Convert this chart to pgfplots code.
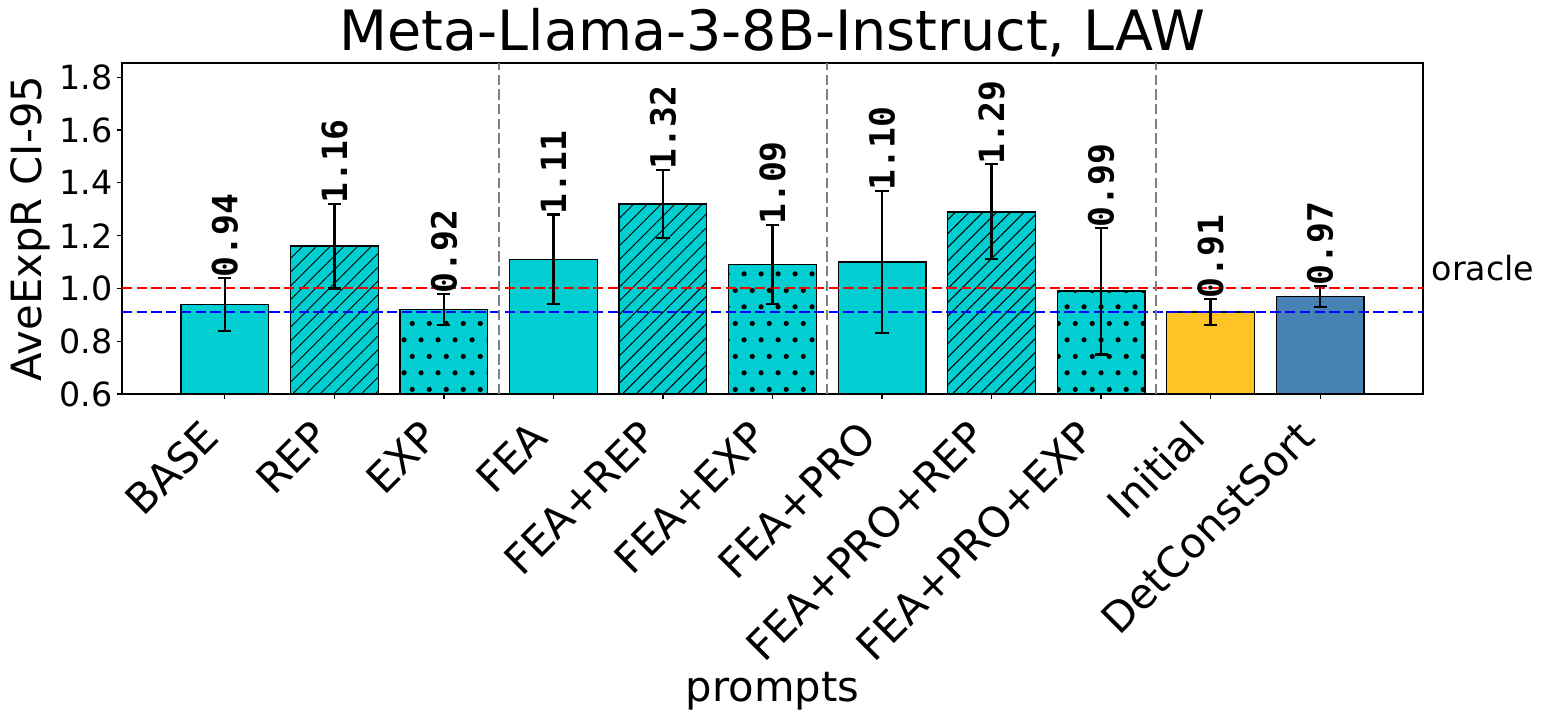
\documentclass[border=0pt]{standalone}
\usepackage{fontspec}
\setmainfont{DejaVu Sans}
\newfontfamily\labfont{DejaVu Sans Mono}
\usepackage{graphicx}
\usepackage{pgfplots}
\pgfplotsset{compat=1.18}
\usetikzlibrary{patterns,patterns.meta}
\definecolor{cyanbar}{RGB}{0,206,209}
\definecolor{goldbar}{RGB}{254,196,37}
\definecolor{steelbar}{RGB}{70,130,180}
\newcommand\xl[1]{\rotatebox{45}{\rule[-0.34em]{0pt}{1.30em}#1}}
\pgfdeclarepatternformonly{mydots}{\pgfpointorigin}{\pgfqpoint{12bp}{24bp}}{\pgfqpoint{12bp}{24bp}}{%
  \pgfpathcircle{\pgfqpoint{3bp}{6bp}}{1.9bp}%
  \pgfpathcircle{\pgfqpoint{9bp}{18bp}}{1.9bp}%
  \pgfusepath{fill}}
\pgfplotstableread{
x top label
0 1.04 0.94
1 1.32 1.16
2 0.98 0.92
3 1.28 1.11
4 1.45 1.32
5 1.24 1.09
6 1.37 1.10
7 1.47 1.29
8 1.23 0.99
9 0.96 0.91
10 1.01 0.97
}\labtable
\begin{document}
\begin{tikzpicture}
\begin{axis}[
  name=ax,
  scale only axis,
  width=13.01in, height=3.31in,
  xmin=-0.94, xmax=10.94,
  ymin=0.6, ymax=1.854,
  axis line style={line width=0.8bp},
  tick style={line width=0.8bp, black},
  tick align=outside,
  major tick length=3.5bp,
  xtick pos=bottom, ytick pos=left,
  xtick={0,1,2,3,4,5,6,7,8,9,10},
  xticklabels={\xl{BASE},\xl{REP},\xl{EXP},\xl{FEA},\xl{FEA+REP},\xl{FEA+EXP},\xl{FEA+PRO},\xl{FEA+PRO+REP},\xl{FEA+PRO+EXP},\xl{Initial},\xl{DetConstSort}},
  xticklabel style={anchor=north east, inner sep=0pt, xshift=5bp, yshift=-9bp, font=\fontsize{30bp}{36bp}\selectfont},
  ytick={0.6,0.8,1.0,1.2,1.4,1.6,1.8},
  yticklabel style={font=\fontsize{24bp}{29bp}\selectfont, /pgf/number format/fixed, /pgf/number format/fixed zerofill, /pgf/number format/precision=1},
  /pgf/number format/assume math mode=true,
  xlabel={prompts},
  ylabel={AveExpR CI-95},
  xlabel style={at={(axis description cs:0.5,-0.93)}, anchor=base, font=\fontsize{30bp}{36bp}\selectfont},
  ylabel style={font=\fontsize{30bp}{36bp}\selectfont},
  title={Meta-Llama-3-8B-Instruct, LAW},
  title style={font=\fontsize{40bp}{48bp}\selectfont, yshift=-5bp},
  clip=true,
]
% plain bars
\addplot[ybar, bar width=0.8, bar shift=0pt, fill=cyanbar, draw=black, line width=1bp]
  coordinates {(0,0.94) (3,1.11) (6,1.10)};
% hatched bars
\addplot[ybar, bar width=0.8, bar shift=0pt, fill=cyanbar, draw=black, line width=1bp,
  postaction={pattern={Lines[angle=45,distance=7bp,line width=0.75bp]}}]
  coordinates {(1,1.16) (4,1.32) (7,1.29)};
% dotted bars
\addplot[ybar, bar width=0.8, bar shift=0pt, fill=cyanbar, draw=black, line width=1bp,
  postaction={pattern=mydots}]
  coordinates {(2,0.92) (5,1.09) (8,0.99)};
\addplot[ybar, bar width=0.8, bar shift=0pt, fill=goldbar, draw=black, line width=1bp]
  coordinates {(9,0.91)};
\addplot[ybar, bar width=0.8, bar shift=0pt, fill=steelbar, draw=black, line width=1bp]
  coordinates {(10,0.97)};
% reference lines
\addplot[red, line width=1.5bp, dash pattern=on 7.4bp off 3.2bp] coordinates {(-0.94,1.0) (10.94,1.0)};
\addplot[blue, line width=1.5bp, dash pattern=on 7.4bp off 3.2bp] coordinates {(-0.94,0.91) (10.94,0.91)};
\addplot[gray, line width=1.5bp, dash pattern=on 7.4bp off 3.2bp] coordinates {(2.5,0.6) (2.5,1.854)};
\addplot[gray, line width=1.5bp, dash pattern=on 7.4bp off 3.2bp] coordinates {(5.5,0.6) (5.5,1.854)};
\addplot[gray, line width=1.5bp, dash pattern=on 7.4bp off 3.2bp] coordinates {(8.5,0.6) (8.5,1.854)};
% error bars
\addplot[draw=none, mark=none, line width=1.6bp,
  error bars/.cd, y dir=both, y explicit,
  error bar style={draw=black, line width=1.6bp, solid},
  error mark options={draw=black, rotate=90, mark size=4.7bp, line width=1.6bp}]
  coordinates {
  (0,0.94) +- (0,0.10)
  (1,1.16) +- (0,0.16)
  (2,0.92) +- (0,0.06)
  (3,1.11) +- (0,0.17)
  (4,1.32) +- (0,0.13)
  (5,1.09) +- (0,0.15)
  (6,1.10) +- (0,0.27)
  (7,1.29) +- (0,0.18)
  (8,0.99) +- (0,0.24)
  (9,0.91) +- (0,0.05)
  (10,0.97) +- (0,0.04)
  };
% value labels
\addplot[draw=none, mark=none, nodes near coords, point meta=explicit symbolic,
  nodes near coords style={rotate=90, anchor=west, inner sep=0pt, black,
    font=\labfont\bfseries\fontsize{25bp}{30bp}\selectfont}]
  table[x=x, y=top, meta=label] {\labtable};
\end{axis}
\node[anchor=base west, inner sep=0pt, font=\fontsize{24bp}{29bp}\selectfont]
  at ([xshift=6bp, yshift={0.03*3.31in/1.254}]ax.south east |- 0,{0.4*3.31in/1.254}) {oracle};
\pgfresetboundingbox
\path (ax.south west) ++(-1.22in,-3.20in) rectangle ++(15.46in,7.14in);
\end{tikzpicture}
\end{document}
